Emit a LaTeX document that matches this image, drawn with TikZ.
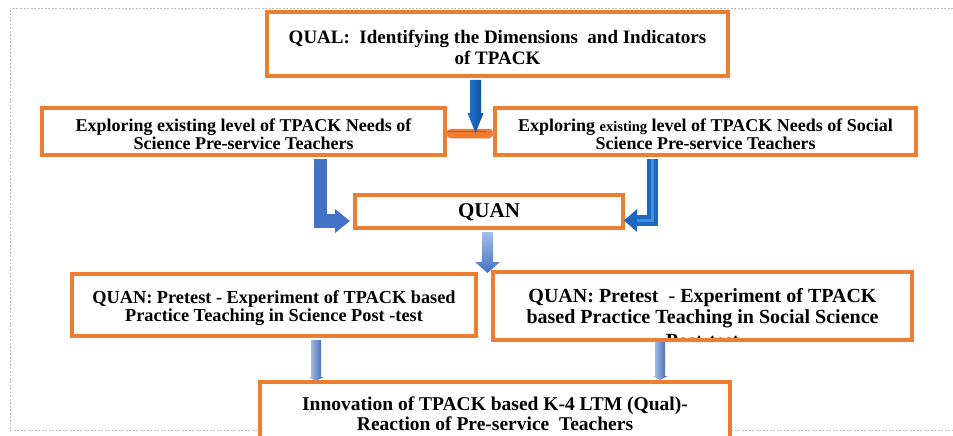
\documentclass[tikz,border=0pt]{standalone}
\usepackage{fontspec}
\setmainfont{Liberation Serif}
\usetikzlibrary{arrows.meta,calc}

\definecolor{boxorange}{HTML}{ED7D31}
\definecolor{framegray}{HTML}{BFBFBF}
\definecolor{deepblueL}{HTML}{2277D6}
\definecolor{deepblueD}{HTML}{0C4A96}
\definecolor{midblue}{HTML}{4472C4}
\definecolor{brightblue}{HTML}{1C67C2}
\definecolor{stripeblue}{HTML}{3E8EE2}
\definecolor{paleblue}{HTML}{A3BEEA}
\definecolor{softblueL}{HTML}{B3C9EC}
\definecolor{softblueD}{HTML}{3A62AE}
\definecolor{barshade}{HTML}{707070}

% straight downward block arrow: options, start, tip, shaft half width, head half width, head length
\newcommand\flowarrow[6]{%
  \shade[#1] let \p1=#2, \p2=#3 in
    (\x2-#4,\y1) -- (\x2-#4,\y2+#6) -- (\x2-#5,\y2+#6) -- (\x2,\y2)
    -- (\x2+#5,\y2+#6) -- (\x2+#4,\y2+#6) -- (\x2+#4,\y1) -- cycle;}

\begin{document}
\begin{tikzpicture}[x=1pt,y=-1pt,
  stagebox/.style={draw=boxorange, line width=4pt, fill=white, inner sep=0pt},
  stagetext/.style={align=center, inner sep=0pt, text=black},
  elbow/.style={line join=miter}
]
\useasboundingbox (0,0) rectangle (953,436);
\clip (0,0) rectangle (953,436);

% dashed surrounding frame
\draw[framegray, line width=0.8pt, dash pattern=on 2pt off 1.5pt]
  (960,8) -- (10,8) -- (10,430) -- (960,430);

% helper points for connectors
\coordinate (link) at (475.5,133);
\coordinate (lbend) at (320.5,221);
\coordinate (rbend) at (652.5,220.5);
\coordinate (qdown) at (487.5,273);
\coordinate (ldown) at (316,381);
\coordinate (rdown) at (660,380);

% top box
\node[stagebox, minimum width=461pt, minimum height=64pt] (qual) at (497.5,44) {};
\node[stagetext, font=\bfseries\fontsize{19}{21}\selectfont] (qualtext) at ([yshift=-3pt]qual.center)
  {QUAL:\ \ Identifying the Dimensions\ \ and Indicators\\ of TPACK};

% the two exploring boxes with the bar joining them
\node[stagebox, draw=none, fill=none, minimum width=403pt, minimum height=47pt] (sci) at (243.5,131.5) {};
\node[stagebox, draw=none, fill=none, minimum width=421pt, minimum height=47pt] (soc) at (705.5,131.5) {};

\draw[boxorange, fill=boxorange, line width=0.5pt, rounded corners=4pt]
  ([yshift=2.5pt]sci.east) rectangle ([yshift=-6.5pt]soc.west);
\draw[barshade, line width=1pt]
  ([yshift=0.5pt]sci.east) -- ([xshift=-6pt,yshift=0.5pt]soc.west);

\node[stagebox, minimum width=403pt, minimum height=47pt] (scibox) at (sci) {};
\node[stagetext, font=\bfseries\fontsize{18}{18}\selectfont] (scitext) at ([yshift=-3pt]sci.center)
  {Exploring existing level of TPACK Needs of\\ Science Pre-service Teachers};
\node[stagebox, minimum width=421pt, minimum height=47pt] (socbox) at (soc) {};
\node[stagetext, font=\bfseries\fontsize{18}{18}\selectfont] (soctext) at ([yshift=-3pt]soc.center)
  {Exploring {\fontsize{14.5}{18}\selectfont existing} level of TPACK Needs of Social\\ Science Pre-service Teachers};

% merge box
\node[stagebox, minimum width=268pt, minimum height=33pt] (quan) at (489,211.5) {};
\node[stagetext, font=\bfseries\fontsize{21}{21}\selectfont] (quantext) at ([yshift=-1pt]quan.center) {QUAN};

% experiment boxes
\node[stagebox, minimum width=404pt, minimum height=62pt] (psci) at (274,305) {};
\node[stagetext, font=\bfseries\fontsize{18.3}{18.5}\selectfont] (pscitext) at ([yshift=-3pt]psci.center)
  {QUAN: Pretest - Experiment of TPACK based\\ Practice Teaching in Science Post -test};

\node[stagebox, draw=none, minimum width=415pt, minimum height=64pt] (psoc) at (702.5,306) {};
\begin{scope}
  \clip (psoc.north west) rectangle (psoc.south east);
  \node[stagetext, font=\bfseries\fontsize{20}{21}\selectfont] (psoctext) at ([yshift=-12.5pt]psoc.center)
    {QUAN: Pretest\ \ - Experiment\ of\ TPACK\\ based\ Practice\ Teaching\ in\ Social\ Science\\[3pt] Post-test};
\end{scope}
\draw[boxorange, line width=4pt] (psoc.north west) rectangle (psoc.south east);

% final box
\node[stagebox, minimum width=470pt, minimum height=60pt] (innov) at (495,412) {};
\node[stagetext, font=\bfseries\fontsize{19.5}{20}\selectfont] (innovtext) at ([yshift=-2pt]innov.center)
  {Innovation\ of TPACK based K-4 LTM (Qual)-\\ Reaction\ of Pre-service\ \ Teachers};

% connectors
\flowarrow{left color=deepblueL, right color=deepblueD}
  {([yshift=-2pt]qual.south -| link)}{(link)}{5.5pt}{8pt}{20pt}

\draw[elbow, midblue, line width=13.5pt, -{Triangle[length=15pt, width=23pt]}]
  ([yshift=-2pt]sci.south -| lbend) -- (lbend) -- ([xshift=-3pt]quan.west |- lbend);

\draw[elbow, brightblue, line width=11pt, -{Triangle[length=13pt, width=22pt]}]
  ([yshift=-2pt]soc.south -| rbend) -- (rbend) -- ([xshift=-1pt]quan.east |- rbend);
\draw[elbow, stripeblue, line width=3.5pt]
  ([yshift=-2pt]soc.south -| rbend) -- (rbend) -- ([xshift=12pt]quan.east |- rbend);

\flowarrow{top color=paleblue, bottom color=midblue}
  {([yshift=-2pt]quan.south -| qdown)}{(qdown)}{5.5pt}{12.5pt}{11pt}

\flowarrow{left color=softblueL, right color=softblueD}
  {([yshift=-2pt]psci.south -| ldown)}{(ldown)}{5pt}{7.5pt}{4pt}
\flowarrow{left color=softblueL, right color=softblueD}
  {([yshift=-2pt]psoc.south -| rdown)}{(rdown)}{5pt}{7.5pt}{4pt}
\end{tikzpicture}
\end{document}
